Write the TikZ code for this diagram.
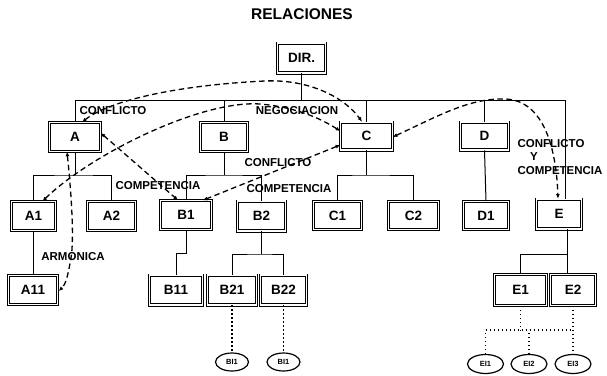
\documentclass[tikz,border=0pt]{standalone}
\usepackage{fontspec}
\setmainfont{Liberation Sans}
\usetikzlibrary{arrows.meta,shapes.geometric,calc}

\newcommand{\titlefont}{\fontsize{15.5}{16}\selectfont\bfseries}
\newcommand{\boxfont}{\fontsize{13.5}{13.5}\selectfont\bfseries}
\newcommand{\lblfont}{\fontsize{11.5}{11.5}\selectfont\bfseries}
\newcommand{\leaffont}{\fontsize{7.5}{7.5}\selectfont\bfseries}

\tikzset{
  unit/.style={draw, double, double distance=1.5pt, line width=0.9pt,
    font=\boxfont, inner sep=0pt, minimum width=#1},
  unit/.default=46pt,
  tree/.style={line width=1pt},
  rel/.style={dash pattern=on 5.5pt off 3.5pt, line width=1.3pt,
    {Latex[length=4.5pt,width=4pt]}-{Latex[length=4.5pt,width=4pt]}},
  dots/.style={line width=1.6pt, dash pattern=on 1.3pt off 2.7pt},
  lbl/.style={font=\lblfont, inner sep=0.5pt},
  leaf/.style={ellipse, draw, line width=1.2pt, inner sep=0pt, font=\leaffont}
}

\begin{document}
\begin{tikzpicture}[x=1pt,y=-1pt]
\useasboundingbox (0,0) rectangle (607,375);

% row heights of the connecting lines
\coordinate (r1) at (0,100);
\coordinate (r2) at (0,175);
\coordinate (r3) at (0,254);
\coordinate (r4) at (0,330);

\node[font=\titlefont] (title) at (302,14) {RELACIONES};

% top level
\node[unit=47.7pt, minimum height=29.7pt] (DIR) at (301.5,58) {DIR.};

% first level
\node[unit=50.7pt, minimum height=28.7pt] (A) at (75,137) {A};
\node[unit=46.7pt, minimum height=28.7pt] (B) at (224,137) {B};
\node[unit=51.7pt, minimum height=27.7pt] (C) at (366.5,136) {C};
\node[unit=47.7pt, minimum height=27.7pt] (D) at (484.5,136) {D};

% second level
\node[unit=43.7pt, minimum height=28.7pt] (A1) at (33.5,216) {A1};
\node[unit=47.7pt, minimum height=28.7pt] (A2) at (111.5,216) {A2};
\node[unit=50.7pt, minimum height=28.7pt] (B1) at (186,215) {B1};
\node[unit=47.7pt, minimum height=29.7pt] (B2) at (261.5,216) {B2};
\node[unit=47.7pt, minimum height=27.7pt] (C1) at (337.5,215.5) {C1};
\node[unit=49.7pt, minimum height=27.7pt] (C2) at (413.5,215.5) {C2};
\node[unit=44.7pt, minimum height=27.7pt] (D1) at (486,215.5) {D1};
\node[unit=44.7pt, minimum height=29.7pt] (E) at (559,214) {E};

% third level
\node[unit=48.7pt, minimum height=28.7pt] (A11) at (33,290) {A11};
\node[unit=52.7pt, minimum height=29.7pt] (B11) at (176,290) {B11};
\node[unit=48.7pt, minimum height=29.7pt] (B21) at (232,290) {B21};
\node[unit=45.7pt, minimum height=29.7pt] (B22) at (283.5,290) {B22};
\node[unit=51.7pt, minimum height=30.7pt] (E1) at (520.5,290) {E1};
\node[unit=44.7pt, minimum height=30.7pt] (E2) at (573,290) {E2};

% leaves
\node[leaf, minimum width=33pt, minimum height=18pt] (BI1) at (232,362) {BI1};
\node[leaf, minimum width=33pt, minimum height=18pt] (BI2) at (283.5,362) {BI1};
\node[leaf, minimum width=36pt, minimum height=19pt] (EI1) at (485.5,364) {EI1};
\node[leaf, minimum width=36pt, minimum height=19pt] (EI2) at (529,364) {EI2};
\node[leaf, minimum width=36pt, minimum height=19pt] (EI3) at (573,364) {EI3};

% hierarchy lines
\coordinate (Ein) at ($(E.north)+(6,0)$);
\coordinate (Eout) at ($(E.south)+(8,0)$);
\draw[tree] (DIR.south) -- (DIR.south |- r1);
\draw[tree] (A.north) -- (A.north |- r1) -- (Ein |- r1) -- (Ein);
\foreach \n in {B,C,D} \draw[tree] (\n.north) -- (\n.north |- r1);

\draw[tree] (A.south) -- (A.south |- r2);
\draw[tree] (A1.north) |- (A.south |- r2) -| (A2.north);
\draw[tree] (B.south) -- (B.south |- r2);
\draw[tree] (B1.north) |- (B.south |- r2) -| (B2.north);
\draw[tree] (C.south) -- (C.south |- r2);
\draw[tree] (C1.north) |- (C.south |- r2) -| (C2.north);
\draw[tree] (D.south) -- (D1.north);

\draw[tree] (A1.south) -- (A1.south |- A11.north);
\draw[tree] (B1.south) -- (B1.south |- 0,253) -| (B11.north);
\draw[tree] (B2.south) -- (B2.south |- r3);
\draw[tree] (B21.north) |- (B2.south |- r3) -| (B22.north);
\draw[tree] (Eout) -- (Eout |- E2.north);
\draw[tree] (E1.north) |- (Eout |- r3);

% dotted links to the leaves
\draw[dots] (B21.south) -- (B21.south |- BI1.north);
\draw[dots] (B22.south) -- (B22.south |- BI2.north);
\draw[dots] (E1.south) -- (E1.south |- r4);
\draw[dots] (EI1.north) |- (E2.south |- r4);
\draw[dots] (EI2.north) -- (EI2.north |- r4);
\draw[dots] (E2.south) -- (EI3.north);

% relations between units
\coordinate (aC) at ($(A.north)+(7,0)$);
\coordinate (cA) at ($(C.north)+(-4.5,0)$);
\draw[rel] (aC) .. controls (110,100) and (180,85) .. (265,81)
  .. controls (310,79) and (345,98) .. (cA);

\coordinate (a1N) at ($(A1.north)+(9,0)$);
\coordinate (cN) at ($(C.west)+(0,-5)$);
\draw[rel] (a1N) .. controls (90,155) and (200,100) .. (260,104)
  .. controls (295,107) and (320,118) .. (cN);

\coordinate (aB) at ($(A.east)+(0,-4)$);
\coordinate (b1A) at ($(B1.north)+(-8,0)$);
\draw[rel] (aB) -- (b1A);

\coordinate (cB) at ($(C.west)+(0,9)$);
\coordinate (b1C) at ($(B1.north)+(17,0)$);
\draw[rel] (cB) -- (b1C);

\coordinate (cE) at ($(C.east)+(0,1)$);
\coordinate (eC) at ($(E.north)+(-1,0)$);
\draw[rel] (cE) .. controls (440,115) and (470,98) .. (505,99)
  .. controls (540,100) and (556,140) .. (eC);

\coordinate (aH) at ($(A.south)+(-8,0)$);
\coordinate (a11H) at ($(A11.east)+(1,1)$);
\draw[rel] (aH) .. controls (72,200) and (74,240) .. (71,258)
  .. controls (68,275) and (66,284) .. (a11H);

% relation labels
\node[lbl] (l1) at (113,111) {CONFLICTO};
\node[lbl] (l2) at (297,111) {NEGOCIACION};
\node[lbl] (l3) at (158,186) {COMPETENCIA};
\node[lbl] (l4) at (278,163) {CONFLICTO};
\node[lbl] (l5) at (289,189) {COMPETENCIA};
\node[lbl] (l6) at (551,144) {CONFLICTO};
\node[lbl] (l7) at (534,157) {Y};
\node[lbl] (l8) at (560,171) {COMPETENCIA};
\node[lbl] (l9) at (73,257) {ARMONICA};
\end{tikzpicture}
\end{document}
